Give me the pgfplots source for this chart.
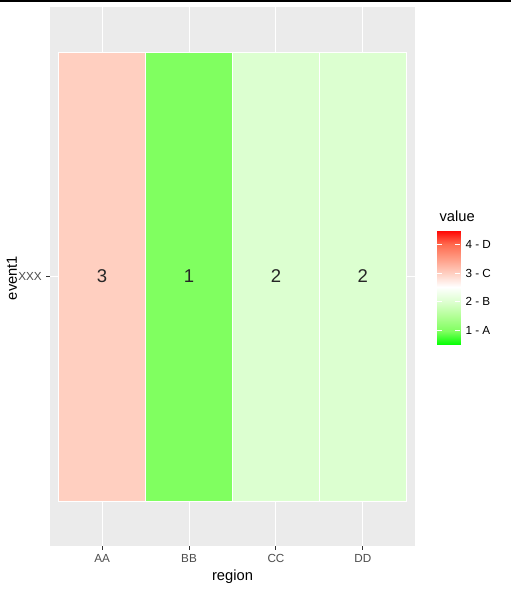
\documentclass[border=0pt]{standalone}
\usepackage{pgfplots}
\pgfplotsset{compat=1.18}
\usepackage{fontspec}
\setmainfont{Liberation Sans}
\definecolor{ggbg}{RGB}{235,235,235}
\definecolor{ggtick}{RGB}{77,77,77}
\definecolor{ggtickmark}{RGB}{51,51,51}
\definecolor{cA}{RGB}{128,255,96}
\definecolor{cB}{RGB}{220,255,208}
\definecolor{cC}{RGB}{255,207,192}
\pgfplotsset{colormap={ggrg}{rgb255(0pt)=(0,255,0) rgb255(5pt)=(128,255,96) rgb255(10pt)=(178,255,150) rgb255(15pt)=(220,255,206) rgb255(20pt)=(255,255,255) rgb255(25pt)=(255,207,193) rgb255(30pt)=(255,158,135) rgb255(35pt)=(255,106,78) rgb255(40pt)=(255,0,0)}}
\begin{document}
\begin{tikzpicture}[x=1pt,y=1pt]
\useasboundingbox (0,0) rectangle (511,591);
\fill[white] (0,0) rectangle (511,591);
\draw[black, line width=1.6pt] (0,590.2) -- (511,590.2);
\begin{axis}[
  at={(50pt,45pt)}, anchor=south west,
  scale only axis, width=365pt, height=539pt,
  xmin=0.4, xmax=4.6, ymin=0.4, ymax=1.6,
  axis background/.style={fill=ggbg},
  axis line style={draw=none},
  grid=major,
  major grid style={white, line width=1.07pt},
  xtick={1,2,3,4}, xticklabels={AA,BB,CC,DD},
  ytick={1}, yticklabels={XXX},
  xtick pos=bottom, ytick pos=left,
  tick align=outside, major tick length=3.7pt,
  tick style={ggtickmark, line width=1.07pt},
  ticklabel style={font=\fontsize{11.7}{14}\selectfont, text=ggtick},
  xticklabel style={yshift=-1pt},
  yticklabel style={xshift=-1pt},
  clip=false,
]
\addplot[fill=cC, draw=white, line width=0.6pt] coordinates {(0.5,0.5) (1.5,0.5) (1.5,1.5) (0.5,1.5)} --cycle;
\addplot[fill=cA, draw=white, line width=0.6pt] coordinates {(1.5,0.5) (2.5,0.5) (2.5,1.5) (1.5,1.5)} --cycle;
\addplot[fill=cB, draw=white, line width=0.6pt] coordinates {(2.5,0.5) (3.5,0.5) (3.5,1.5) (2.5,1.5)} --cycle;
\addplot[fill=cB, draw=white, line width=0.6pt] coordinates {(3.5,0.5) (4.5,0.5) (4.5,1.5) (3.5,1.5)} --cycle;
\addplot[draw=none, mark=none, nodes near coords, point meta=explicit symbolic,
  nodes near coords style={anchor=center, font=\fontsize{18.5}{20}\selectfont, text=black!85}]
  coordinates {(1,1)[3] (2,1)[1] (3,1)[2] (4,1)[2]};
\end{axis}
\begin{axis}[
  at={(437pt,246pt)}, anchor=south west,
  scale only axis, width=23pt, height=114pt,
  xmin=0, xmax=1, ymin=0.5, ymax=4.46,
  colormap name=ggrg, point meta min=0.5, point meta max=4.5,
  axis line style={draw=none},
  xtick=\empty,
  ytick={1,2,3,4}, yticklabels={1 - A,2 - B,3 - C,4 - D},
  yticklabel pos=right,
  major tick length=0pt,
  tick style={draw=none},
  yticklabel style={font=\fontsize{11.7}{14}\selectfont, text=black, xshift=2pt},
  clip=false,
]
\addplot[surf, shader=interp, point meta=y, mesh/rows=9, mesh/cols=2] coordinates {
(0,0.5) (1,0.5)
(0,1) (1,1)
(0,1.5) (1,1.5)
(0,2) (1,2)
(0,2.5) (1,2.5)
(0,3) (1,3)
(0,3.5) (1,3.5)
(0,4) (1,4)
(0,4.46) (1,4.46)
};
\addplot[white, line width=0.8pt] coordinates {(0,1) (0.2,1)};
\addplot[white, line width=0.8pt] coordinates {(0.8,1) (1,1)};
\addplot[white, line width=0.8pt] coordinates {(0,2) (0.2,2)};
\addplot[white, line width=0.8pt] coordinates {(0.8,2) (1,2)};
\addplot[white, line width=0.8pt] coordinates {(0,3) (0.2,3)};
\addplot[white, line width=0.8pt] coordinates {(0.8,3) (1,3)};
\addplot[white, line width=0.8pt] coordinates {(0,4) (0.2,4)};
\addplot[white, line width=0.8pt] coordinates {(0.8,4) (1,4)};
\end{axis}
\node[anchor=west, font=\fontsize{14.7}{16}\selectfont] at (436,375) {value};
\node[font=\fontsize{14.7}{16}\selectfont] at (232.5,14) {region};
\node[rotate=90, font=\fontsize{14.7}{16}\selectfont] at (12,313) {event1};
\end{tikzpicture}
\end{document}
